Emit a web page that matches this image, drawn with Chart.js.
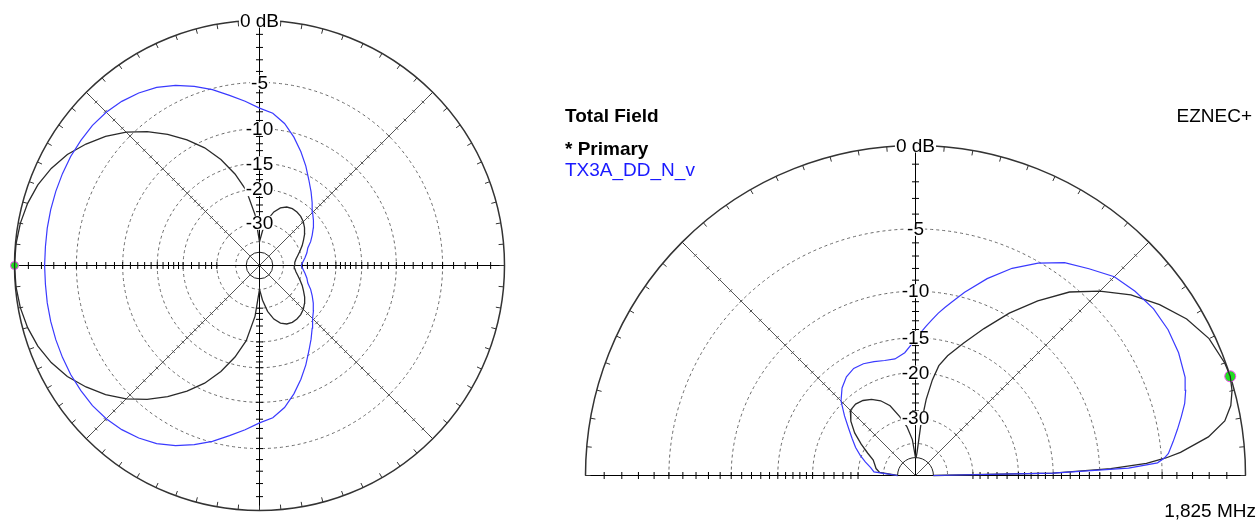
<!DOCTYPE html>
<html>
<head>
<meta charset="utf-8">
<title>Total Field – 1,825 MHz</title>
<script src="https://cdn.jsdelivr.net/npm/chart.js@4.4.1/dist/chart.umd.min.js"></script>
<style>
  html, body { margin: 0; padding: 0; background: #fff; }
  body { position: relative; width: 1259px; height: 521px; overflow: hidden;
         font-family: "Liberation Sans", Arial, sans-serif; }
  .plot { position: absolute; top: 0; }
  .txt { position: absolute; font-size: 19px; line-height: 19px; white-space: nowrap; color: #000; }
</style>
</head>
<body>
<div class="plot" style="left:0;width:530px;height:521px"><canvas id="azChart"></canvas></div>
<div class="plot" style="left:560px;width:699px;height:521px"><canvas id="elChart"></canvas></div>
<div class="txt" style="left:565px;top:106px;font-weight:bold">Total Field</div>
<div class="txt" style="right:7px;top:106px">EZNEC+</div>
<div class="txt" style="left:565px;top:139px;font-weight:bold">* Primary</div>
<div class="txt" style="left:565px;top:160px;color:#1a1aff">TX3A_DD_N_v</div>
<div class="txt" style="right:3px;top:501px">1,825 MHz</div>
<script>
// ---- Azimuth pattern (degrees counter-clockwise from +x), gain in dB ----
const azAngles = [
  0, 5, 10, 15, 20, 25, 30, 35, 40, 45, 50, 55, 60, 65, 70, 75, 80, 85, 90,
  95, 100, 105, 110, 115, 120, 125, 130, 135, 140, 145, 150, 155, 160, 165, 170, 175, 180,
  185, 190, 195, 200, 205, 210, 215, 220, 225, 230, 235, 240, 245, 250, 255, 260, 265, 270,
  275, 280, 285, 290, 295, 300, 305, 310, 315, 320, 325, 330, 335, 340, 345, 350, 355, 360
];
const azPrimary = [
  -33.5, -33.2, -32.4, -31.2, -29.8, -28.3, -27.0, -25.6, -24.5, -23.6, -23.0, -22.7, -22.6, -22.9, -23.8, -25.5, -28.5, -33.5, -40,
  -27, -20, -16.3, -13.3, -10.9, -9.0, -7.3, -5.8, -4.5, -3.4, -2.5, -1.7, -1.1, -0.65, -0.35, -0.15, -0.04, 0,
  -0.04, -0.15, -0.35, -0.65, -1.1, -1.7, -2.5, -3.4, -4.5, -5.8, -7.3, -9.0, -10.9, -13.3, -16.3, -20, -27, -40,
  -33.5, -28.5, -25.5, -23.8, -22.9, -22.6, -22.7, -23.0, -23.6, -24.5, -25.6, -27.0, -28.3, -29.8, -31.2, -32.4, -33.2, -33.5
];
const azTX3A = [
  -30.4, -29.6, -28.6, -27.6, -26.8, -25.2, -23.9, -22.6, -21.4, -20.3, -18.8, -17.2, -15.6, -13.8, -12.1, -10.5, -9.1, -8.1, -7.6,
  -6.8, -6.0, -5.1, -4.3, -3.6, -3.0, -2.6, -2.3, -2.1, -2.0, -2.0, -2.0, -2.05, -2.1, -2.15, -2.2, -2.25, -2.25,
  -2.25, -2.2, -2.15, -2.1, -2.05, -2.0, -2.0, -2.0, -2.1, -2.3, -2.6, -3.0, -3.6, -4.3, -5.1, -6.0, -6.8, -7.6,
  -8.1, -9.1, -10.5, -12.1, -13.8, -15.6, -17.2, -18.8, -20.3, -21.4, -22.6, -23.9, -25.2, -26.8, -27.6, -28.6, -29.6, -30.4
];

// ---- Elevation pattern (degrees above the horizon), gain in dB ----
const elAngles = [
  0, 1, 2, 3, 4, 5, 7.5, 10, 12.5, 15, 17.5, 20, 25, 30, 35, 40, 45, 50, 55, 60, 65, 70, 75,
  78, 80, 82, 84, 86, 88, 90, 95, 100, 105, 110, 115, 120, 125, 130, 135, 140, 145, 150,
  155, 160, 165, 170, 175, 180
];
const elPrimary = [
  -50, -15, -9, -6.1, -4.7, -3.7, -1.9, -0.85, -0.37, -0.12, 0, -0.05, -0.32, -0.9, -1.75, -2.75, -4.05, -5.5, -7.5, -9.7, -12.2, -14.6, -16.8,
  -18.5, -21, -25, -32, -45, -50, -50, -38, -32.5, -29, -25.6, -23.8, -22.7, -22.0, -21.7, -21.9, -23.4, -25.6, -28.5,
  -31.5, -34.2, -35.3, -36.2, -38, -50
];
const elTX3A = [
  -50, -15, -7.5, -5.3, -4.8, -4.5, -4.1, -3.7, -3.3, -2.9, -2.62, -2.4, -2.2, -2.12, -2.18, -2.42, -2.75, -3.45, -4.1, -5.1, -6.3, -7.8, -9.5,
  -10.6, -11.3, -12.0, -12.8, -13.6, -14.4, -15.2, -16.9, -17.6, -17.5, -17.2, -16.9, -16.85, -17.3, -18.2, -19.6, -21.8, -24.0, -25.9,
  -27.6, -29.6, -31.8, -34, -35.5, -50
];

// ---- Grid levels (dB) ----
const ringLevels = [-5, -10, -15, -20, -30, -40];
const innerLevel = -50;
const labelLevels = [0, -5, -10, -15, -20, -30];
const labelTexts = ['0 dB', '-5', '-10', '-15', '-20', '-30'];
const axisTickLevels = [
  -1, -2, -3, -4, -5, -6, -7, -8, -9, -10, -11, -12, -13, -14, -15, -16, -17, -18, -19, -20,
  -22, -24, -26, -28, -30
];

// ARRL log scale: radius shrinks by 0.89 for every 2 dB
const STEP_RATIO = 0.89;
function radiusOf(db) {
  return Math.pow(STEP_RATIO, -Math.max(db, innerLevel) / 2);
}
function polarPoints(angles, gains) {
  return angles.map((a, i) => {
    const t = a * Math.PI / 180, r = radiusOf(gains[i]);
    return { x: r * Math.cos(t), y: r * Math.sin(t) };
  });
}
function peakPoint(angles, gains) {
  let k = 0;
  gains.forEach((g, i) => { if (g > gains[k]) k = i; });
  return polarPoints([angles[k]], [gains[k]]);
}

const FONT = '19px "Liberation Sans", Arial, sans-serif';
Chart.defaults.font.family = '"Liberation Sans", Arial, sans-serif';

const polarGrid = {
  id: 'polarGrid',
  beforeDatasetsDraw(chart, _a, o) {
    const { ctx, scales } = chart;
    const cx = scales.x.getPixelForValue(0), cy = scales.y.getPixelForValue(0);
    const R = scales.x.getPixelForValue(1) - cx;
    const start = o.half ? Math.PI : 0, end = 2 * Math.PI;
    ctx.save();
    ctx.lineWidth = 1;
    // dashed level rings
    ctx.setLineDash([3, 3]);
    ctx.strokeStyle = '#6a6a6a';
    ringLevels.forEach(lv => {
      ctx.beginPath(); ctx.arc(cx, cy, R * radiusOf(lv), start, end); ctx.stroke();
    });
    ctx.setLineDash([]);
    ctx.strokeStyle = '#222';
    ctx.beginPath(); ctx.arc(cx, cy, R * radiusOf(innerLevel), start, end); ctx.stroke();
    if (o.half) { ctx.beginPath(); ctx.moveTo(cx - R, cy); ctx.lineTo(cx + R, cy); ctx.stroke(); }
    // spokes with dB ticks
    const spokes = o.half ? [0, 45, 90, 135, 180] : [0, 45, 90, 135, 180, 225, 270, 315];
    spokes.forEach(s => {
      const t = s * Math.PI / 180, ux = Math.cos(t), uy = -Math.sin(t);
      const diag = s % 90 !== 0;
      ctx.strokeStyle = diag ? '#555' : '#000';
      ctx.beginPath(); ctx.moveTo(cx, cy); ctx.lineTo(cx + ux * R, cy + uy * R); ctx.stroke();
      const h = diag ? 2 : 3.5;
      ctx.beginPath();
      axisTickLevels.forEach(d => {
        const r = R * radiusOf(d), px = cx + ux * r, py = cy + uy * r;
        ctx.moveTo(px + uy * h, py - ux * h); ctx.lineTo(px - uy * h, py + ux * h);
      });
      ctx.stroke();
    });
    // outer boundary with 5 degree ticks
    ctx.strokeStyle = '#333';
    ctx.lineWidth = 1.5;
    ctx.beginPath(); ctx.arc(cx, cy, R, start, end); ctx.stroke();
    ctx.lineWidth = 1;
    ctx.beginPath();
    const last = o.half ? 180 : 355;
    for (let d = 0; d <= last; d += 5) {
      const t = d * Math.PI / 180, ux = Math.cos(t), uy = -Math.sin(t);
      ctx.moveTo(cx + ux * R, cy + uy * R); ctx.lineTo(cx + ux * (R - 5), cy + uy * (R - 5));
    }
    ctx.stroke();
    ctx.restore();
  },
  afterDatasetsDraw(chart) {
    const { ctx, scales } = chart;
    const cx = scales.x.getPixelForValue(0), cy = scales.y.getPixelForValue(0);
    const R = scales.x.getPixelForValue(1) - cx;
    ctx.save();
    ctx.font = FONT;
    ctx.textAlign = 'center';
    ctx.textBaseline = 'middle';
    labelLevels.forEach((lv, i) => {
      const y = cy - R * radiusOf(lv);
      const w = ctx.measureText(labelTexts[i]).width;
      ctx.fillStyle = '#fff';
      ctx.fillRect(cx - w / 2 - 1, y - 7, w + 2, 14);
      ctx.fillStyle = '#000';
      ctx.fillText(labelTexts[i], cx, y + 1);
    });
    ctx.restore();
  }
};

function polarChart(id, cfg) {
  const [cx, cy] = cfg.center, R = cfg.radius;
  return new Chart(document.getElementById(id), {
    type: 'scatter',
    data: {
      datasets: [
        { label: 'TX3A_DD_N_v', data: polarPoints(cfg.angles, cfg.second),
          showLine: true, borderColor: '#3a3aff', borderWidth: 1.2, pointRadius: 0, tension: 0, clip: false },
        { label: 'Primary', data: polarPoints(cfg.angles, cfg.primary),
          showLine: true, borderColor: '#2a2a2a', borderWidth: 1.3, pointRadius: 0, tension: 0, clip: false },
        { label: 'Peak', data: peakPoint(cfg.angles, cfg.primary), showLine: false,
          pointRadius: cfg.dot, pointBackgroundColor: '#22dd22', pointBorderColor: '#ff40ff',
          pointBorderWidth: 1, clip: false }
      ]
    },
    options: {
      responsive: true, maintainAspectRatio: false, animation: false, events: [],
      layout: { padding: 0, autoPadding: false },
      plugins: { legend: { display: false }, tooltip: { enabled: false }, polarGrid: { half: cfg.half } },
      scales: {
        x: { type: 'linear', display: false, min: -cx / R, max: (cfg.width - cx) / R },
        y: { type: 'linear', display: false, min: -(cfg.height - cy) / R, max: cy / R }
      }
    },
    plugins: [polarGrid]
  });
}

polarChart('azChart', {
  center: [259.5, 265.5], radius: 245, width: 530, height: 521, half: false, dot: 4,
  angles: azAngles, primary: azPrimary, second: azTX3A
});
polarChart('elChart', {
  center: [355.5, 475.5], radius: 330, width: 699, height: 521, half: true, dot: 5.5,
  angles: elAngles, primary: elPrimary, second: elTX3A
});
</script>
</body>
</html>
